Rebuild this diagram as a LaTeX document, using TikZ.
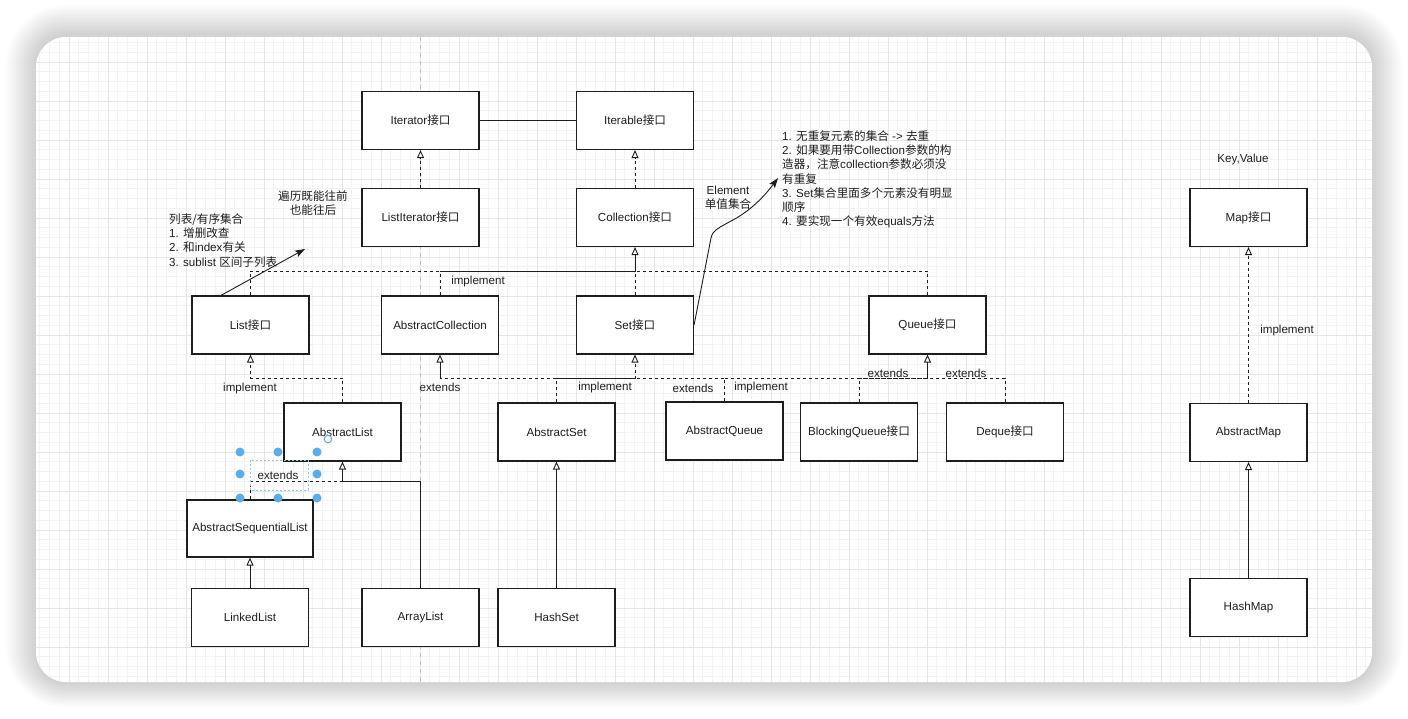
\documentclass[tikz,border=0pt]{standalone}
\usepackage{fontspec}
\setmainfont{Liberation Sans}
\newfontfamily\cjkfont{Noto Sans CJK SC}
\newcommand\zh[1]{{\cjkfont #1}}
\usetikzlibrary{arrows.meta,calc}
\definecolor{gridminor}{HTML}{F3F3F3}
\definecolor{gridmajor}{HTML}{E6E6E6}
\definecolor{ink}{HTML}{1E1E1E}
\definecolor{handle}{HTML}{5AAEE8}

\begin{document}
\begin{tikzpicture}[x=1pt,y=-1pt,
  font=\fontsize{11.6}{14.2}\selectfont,
  cls/.style={draw=ink, line width=1.15pt, fill=white, minimum width=117pt,
              minimum height=58pt, inner sep=0pt, text=ink},
  wire/.style={draw=ink, line width=0.9pt},
  dsh/.style={wire, dash pattern=on 3pt off 3pt},
  opentip/.style={-{Triangle[open, length=8pt, width=7pt, fill=white, line width=0.9pt]}},
  filltip/.style={-{Stealth[length=10pt, width=7pt, inset=2pt]}},
  lbl/.style={text=ink, inner sep=1pt},
  note/.style={text=ink, inner sep=0pt, align=left, anchor=north west},
]
\useasboundingbox (0,0) rectangle (1408,718);
\fill[white] (0,0) rectangle (1408,718);

% soft shadow round the canvas, built from stacked translucent layers
\foreach \k [evaluate=\k as \r using 30+2*\k] in {1,...,15}
  \fill[black, opacity=0.011, rounded corners=\r pt]
    ({36-2*\k},{35-2*\k}) rectangle ({1372+2*\k},{683+1.6*\k});

% canvas
\fill[white, rounded corners=30pt] (36,37) rectangle (1372,682);

% grid paper
\begin{scope}
  \clip[rounded corners=30pt] (36,37) rectangle (1372,682);
  \foreach \i in {0,...,139} \draw[gridminor, line width=0.6pt] ({30+9.75*\i},37) -- ++(0,645);
  \foreach \j in {0,...,68} \draw[gridminor, line width=0.6pt] (36,{23+9.75*\j}) -- ++(1336,0);
  \foreach \i in {0,...,35} \draw[gridmajor, line width=0.7pt] ({30+39*\i},37) -- ++(0,645);
  \foreach \j in {0,...,17} \draw[gridmajor, line width=0.7pt] (36,{23+39*\j}) -- ++(1336,0);
  % alignment guide
  \draw[black!25, dash pattern=on 4pt off 4pt, line width=0.7pt] (420,37) -- (420,682);
\end{scope}

% classes and interfaces
\node[cls] (iter)     at (420.5,120.5) {Iterator\zh{接口}};
\node[cls] (iterable) at (635,120.5)   {Iterable\zh{接口}};
\node[cls] (listiter) at (420.5,217.5) {ListIterator\zh{接口}};
\node[cls] (coll)     at (635,217.5)   {Collection\zh{接口}};
\node[cls] (list)     at (250.5,325)   {List\zh{接口}};
\node[cls] (abscoll)  at (440,325)     {AbstractCollection};
\node[cls] (set)      at (635,325)     {Set\zh{接口}};
\node[cls] (queue)    at (927.5,325)   {Queue\zh{接口}};
\node[cls] (abslist)  at (342.5,432)   {AbstractList};
\node[cls] (absset)   at (556.5,432)   {AbstractSet};
\node[cls] (absqueue) at (724.5,431)   {AbstractQueue};
\node[cls] (bq)       at (859,432)     {BlockingQueue\zh{接口}};
\node[cls] (deque)    at (1005,432)    {Deque\zh{接口}};
\node[cls, minimum width=126pt, minimum height=57pt] (asl) at (250,528.5) {AbstractSequentialList};
\node[cls] (linked)   at (250,617.5)   {LinkedList};
\node[cls] (array)    at (420.5,617.5) {ArrayList};
\node[cls] (hashset)  at (556.5,617.5) {HashSet};
\node[cls] (map)      at (1248.5,217.5) {Map\zh{接口}};
\node[cls] (absmap)   at (1248.5,432.5) {AbstractMap};
\node[cls] (hashmap)  at (1248.5,607.5) {HashMap};

\coordinate (busA) at (0,271);
\coordinate (busB) at (0,378);
\coordinate (busC) at (0,481);

% top tier
\draw[wire] (iter.east) -- (iterable.west);
\draw[dsh, opentip] (listiter.north) -- (iter.south);
\draw[dsh, opentip] (coll.north) -- (iterable.south);

% second tier up to Collection
\draw[dsh] (list.north) |- (abscoll.north |- busA);
\draw[dsh] (abscoll.north) -- (abscoll.north |- busA);
\draw[dsh] (set.north) -- (set.north |- busA);
\draw[dsh] (queue.north) |- (set.north |- busA);
\draw[wire, opentip] (abscoll.north |- busA) -| (coll.south);
\node[lbl] (lblA) at (478,281) {implement};

% third tier
\draw[dsh, opentip] (abslist.north) |- (list.south |- busB) -- (list.south);
\draw[dsh] (absqueue.north) |- (abscoll.south |- busB);
\draw[wire, opentip] (abscoll.south |- busB) -- (abscoll.south);
\draw[dsh, opentip] (absset.north) |- (set.south |- busB) -- (set.south);
\draw[dsh] (absqueue.north) |- (queue.south |- busB);
\draw[dsh] (bq.north) |- (queue.south |- busB);
\draw[dsh] (deque.north) |- (queue.south |- busB);
\draw[wire, opentip] (queue.south |- busB) -- (queue.south);
\node[lbl] at (250,388) {implement};
\node[lbl] at (440,387) {extends};
\node[lbl] at (605,387) {implement};
\node[lbl] at (693,388) {extends};
\node[lbl] at (761,387) {implement};
\node[lbl] at (888,373) {extends};
\node[lbl] at (966,373) {extends};

% concrete classes
\draw[dsh] (asl.north) |- (abslist.south |- busC);
\draw[wire, opentip] (array.north) |- (abslist.south |- busC) -- (abslist.south);
\draw[wire, opentip] (linked.north) -- (asl.south);
\draw[wire, opentip] (hashset.north) -- (absset.south);

% map branch
\node[lbl] (kv) at (1243,159) {Key,Value};
\draw[dsh, opentip] (absmap.north) -- (map.south);
\node[lbl] at (1287,330) {implement};
\draw[wire, opentip] (hashmap.north) -- (absmap.south);

% notes
\node[lbl, align=center] (travel) at (313,203) {\zh{遍历既能往前}\\\zh{也能往后}};
\node[note] (listnote) at (169,213.5)
  {\zh{列表/有序集合}\\1. \zh{增删改查}\\2. \zh{和}index\zh{有关}\\3. sublist \zh{区间子列表}};
\coordinate (listtip) at (305,249);
\draw[wire, filltip] ($(list.north west)!0.25!(list.north east)$) -- (listtip);

\node[lbl, align=center] (elem) at (728,198) {Element\\\zh{单值集合}};
\node[note] (setnote) at (782,130.5)
  {1. \zh{无重复元素的集合} -> \zh{去重}\\
   2. \zh{如果要用带}Collection\zh{参数的构}\\
   \zh{造器，注意}collection\zh{参数必须没}\\
   \zh{有重复}\\
   3. Set\zh{集合里面多个元素没有明显}\\
   \zh{顺序}\\
   4. \zh{要实现一个有效}equals\zh{方法}};
\coordinate (settip) at (778,178);
\draw[wire, filltip] (set.east) -- (711,238) .. controls (714,222) and (742,226) .. (settip);

% selected edge label with its handles
\node[lbl] (extlbl) at (278,475) {extends};
\draw[handle!70, dash pattern=on 2pt off 2pt, line width=0.8pt] (250,460) rectangle (308,490);
\foreach \hx/\hy in {240/452, 278/452, 317/452, 240/474, 317/474, 240/498, 278/498, 317/498}
  \fill[handle] (\hx,\hy) circle (4.5pt);
\draw[handle, line width=1pt] (328,439) circle (3.8pt);
\end{tikzpicture}
\end{document}
